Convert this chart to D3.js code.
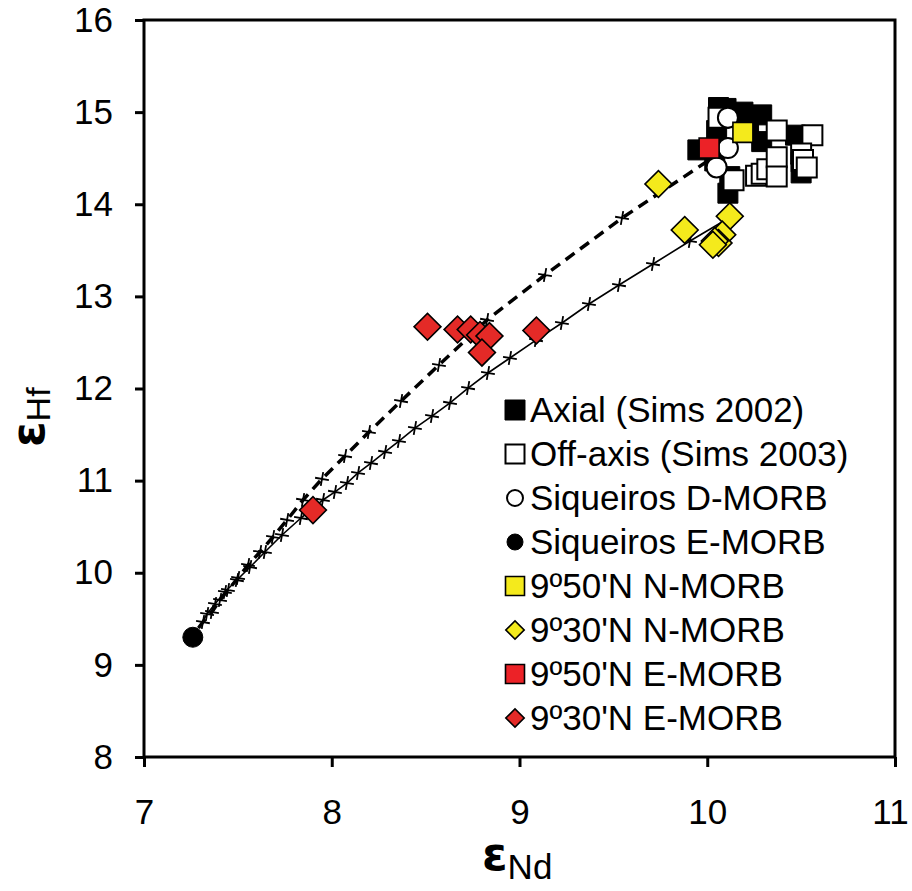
<!DOCTYPE html>
<html>
<head>
<meta charset="utf-8">
<script src="https://cdn.jsdelivr.net/npm/d3@7"></script>
<style>
  body { margin: 0; background: #fff; }
  text { font-family: "Liberation Sans", Arial, sans-serif; fill: #000; }
</style>
</head>
<body>
<svg id="chart" width="912" height="891"></svg>
<script>
const xTicks = [7, 8, 9, 10, 11];
const yTicks = [8, 9, 10, 11, 12, 13, 14, 15, 16];

// [eNd, eHf]
const axial = [[10.06,15.05],[10.10,15.04],[10.19,15.00],[10.29,14.97],[10.29,14.68],[10.47,14.75],
  [10.50,14.34],[10.50,14.46],[9.95,14.59],[10.05,14.80],[10.04,14.47],[10.11,14.12],[10.22,14.85],[10.12,14.30]];
const offAxis = [[10.06,14.94],[10.37,14.80],[10.56,14.75],[10.14,14.26],[10.26,14.31],[10.29,14.33],
  [10.32,14.38],[10.37,14.51],[10.37,14.30],[10.50,14.55],[10.51,14.48],[10.53,14.40]];
const siqD = [[10.11,14.94],[10.11,14.61],[10.05,14.40]];
const siqE = [[7.26,9.30]];
const n950 = [[10.19,14.78]];
const n930 = [[9.74,14.22],[9.88,13.72],[10.12,13.87],[10.08,13.67],[10.06,13.58],[10.04,13.60],[10.03,13.56]];
const e950 = [[10.01,14.61]];
const e930 = [[7.90,10.68],[8.51,12.67],[8.67,12.64],[8.74,12.64],[8.79,12.58],[8.84,12.57],[8.80,12.39],[9.09,12.63]];

// mixing curves (tick marks along each)
const dashedCurve = [[7.29,9.40],[7.314,9.465],[7.362,9.574],[7.405,9.704],[7.447,9.813],[7.501,9.943],[7.554,10.084],
  [7.618,10.225],[7.687,10.388],[7.762,10.573],[7.847,10.790],[7.948,11.018],[8.071,11.267],[8.198,11.528],
  [8.369,11.864],[8.571,12.255],[8.827,12.744],[9.136,13.232],[9.546,13.851],[10.025,14.50]];
const solidCurve = [[7.29,9.40],[7.336,9.552],[7.378,9.661],[7.431,9.791],[7.495,9.921],[7.565,10.062],[7.644,10.225],
  [7.735,10.410],[7.836,10.594],[7.953,10.790],[8.017,10.877],[8.081,10.974],[8.140,11.083],[8.209,11.191],
  [8.284,11.311],[8.358,11.430],[8.443,11.571],[8.534,11.701],[8.630,11.843],[8.726,12.005],[8.832,12.168],
  [8.949,12.331],[9.088,12.526],[9.226,12.711],[9.370,12.917],[9.530,13.123],[9.711,13.351],[9.908,13.601],[10.079,13.807]];

const legendLabels = ["Axial (Sims 2002)", "Off-axis (Sims 2003)", "Siqueiros D-MORB", "Siqueiros E-MORB",
  "9º50'N N-MORB", "9º30'N N-MORB", "9º50'N E-MORB", "9º30'N E-MORB"];

const margin = { top: 20, left: 144, right: 17, bottom: 134 };
const width = 912 - margin.left - margin.right;
const height = 891 - margin.top - margin.bottom;

const svg = d3.select('#chart');
const g = svg.append('g').attr('transform', `translate(${margin.left},${margin.top})`);

const xScale = d3.scaleLinear().domain([7, 11]).range([0, width]);
const yScale = d3.scaleLinear().domain([8, 16]).range([height, 0]);

// axes
g.append('g')
  .attr('transform', `translate(0,${height})`)
  .call(d3.axisBottom(xScale).tickValues(xTicks).tickSize(10).tickPadding(32).tickFormat(d3.format('d')))
  .call(a => a.select('.domain').remove())
  .call(a => a.selectAll('line').attr('stroke', '#000').attr('stroke-width', 3))
  .call(a => a.selectAll('text').attr('font-size', 35).attr('font-family', 'Liberation Sans, Arial, sans-serif'))
  // last label sits at the page edge, keep it inside
  .call(a => a.selectAll('text').filter(d => d === 11).attr('x', -5));

g.append('g')
  .call(d3.axisLeft(yScale).tickValues(yTicks).tickSize(9).tickPadding(22).tickFormat(d3.format('d')))
  .call(a => a.select('.domain').remove())
  .call(a => a.selectAll('line').attr('stroke', '#000').attr('stroke-width', 3))
  .call(a => a.selectAll('text').attr('font-size', 35).attr('font-family', 'Liberation Sans, Arial, sans-serif'));

// frame
g.append('rect')
  .attr('width', width).attr('height', height)
  .attr('fill', 'none').attr('stroke', '#000').attr('stroke-width', 3);

// axis titles
const xt = svg.append('text').attr('x', 482).attr('y', 870);
xt.append('tspan').attr('font-size', 46).attr('font-weight', 'bold').attr('font-family', 'DejaVu Sans').text('ε');
xt.append('tspan').attr('font-size', 35).attr('dy', 9).text('Nd');

const yt = svg.append('text').attr('transform', 'translate(44,447) rotate(-90)');
yt.append('tspan').attr('font-size', 46).attr('font-weight', 'bold').attr('font-family', 'DejaVu Sans').text('ε');
yt.append('tspan').attr('font-size', 34).attr('dy', 6).text('Hf');

// curves
const line = d3.line().x(d => xScale(d[0])).y(d => yScale(d[1]));
g.append('path').datum(dashedCurve).attr('d', line)
  .attr('fill', 'none').attr('stroke', '#000').attr('stroke-width', 3.5).attr('stroke-dasharray', '11,7');
g.append('path').datum(solidCurve).attr('d', line)
  .attr('fill', 'none').attr('stroke', '#000').attr('stroke-width', 1.6);

function ticksOn(data) {
  const t = g.append('g');
  data.slice(1).forEach(d => {
    const cx = xScale(d[0]), cy = yScale(d[1]);
    t.append('path')
      .attr('d', `M${cx - 7},${cy}L${cx + 7},${cy}M${cx},${cy - 7}L${cx},${cy + 7}`)
      .attr('transform', `rotate(10,${cx},${cy})`)
      .attr('stroke', '#000').attr('stroke-width', 1.8);
  });
}
ticksOn(dashedCurve.slice(0, -1));
ticksOn(solidCurve.slice(0, -1));

// symbols
const sq = d3.symbol().type(d3.symbolSquare).size(20 * 20)();
const sqSmall = d3.symbol().type(d3.symbolSquare).size(19 * 19)();
const circ = d3.symbol().type(d3.symbolCircle).size(Math.PI * 10 * 10)();
const circSmall = d3.symbol().type(d3.symbolCircle).size(Math.PI * 8 * 8)();
const dia = d3.symbol().type(d3.symbolSquare).size(19 * 19)();
const diaSmall = d3.symbol().type(d3.symbolSquare).size(13 * 13)();

const styles = [
  { data: axial,   path: sq,   legend: sq,        rot: 0,  fill: '#000',    sw: 1 },
  { data: offAxis, path: sq,   legend: sqSmall,   rot: 0,  fill: '#fff',    sw: 2 },
  { data: siqD,    path: circ, legend: circSmall, rot: 0,  fill: '#fff',    sw: 2 },
  { data: siqE,    path: circ, legend: circSmall, rot: 0,  fill: '#000',    sw: 1 },
  { data: n950,    path: sq,   legend: sqSmall,   rot: 0,  fill: '#F4EA1C', sw: 1.6 },
  { data: n930,    path: dia,  legend: diaSmall,  rot: 45, fill: '#F4EA1C', sw: 1.6 },
  { data: e950,    path: sq,   legend: sqSmall,   rot: 0,  fill: '#EC2227', sw: 1.6 },
  { data: e930,    path: dia,  legend: diaSmall,  rot: 45, fill: '#E42A27', sw: 1.6 }
];

// drawing order: axial, off-axis, circles, then coloured symbols
const drawOrder = [0, 1, 2, 3, 5, 7, 4, 6];
drawOrder.forEach(i => {
  const s = styles[i];
  g.append('g').selectAll('path')
    .data(s.data)
    .join('path')
    .attr('d', s.path)
    .attr('transform', d => `translate(${xScale(d[0])},${yScale(d[1])}) rotate(${s.rot})`)
    .attr('fill', s.fill)
    .attr('stroke', '#000')
    .attr('stroke-width', s.sw);
});

// legend
const legend = svg.append('g').attr('transform', 'translate(515,410)');
const rowStep = 44;
styles.forEach((s, i) => {
  const row = legend.append('g').attr('transform', `translate(0,${i * rowStep})`);
  row.append('path')
    .attr('d', s.legend)
    .attr('transform', `rotate(${s.rot})`)
    .attr('fill', s.fill)
    .attr('stroke', '#000')
    .attr('stroke-width', s.sw);
  row.append('text')
    .attr('x', 15)
    .attr('y', 12)
    .attr('font-size', 35)
    .text(legendLabels[i]);
});
</script>
</body>
</html>
